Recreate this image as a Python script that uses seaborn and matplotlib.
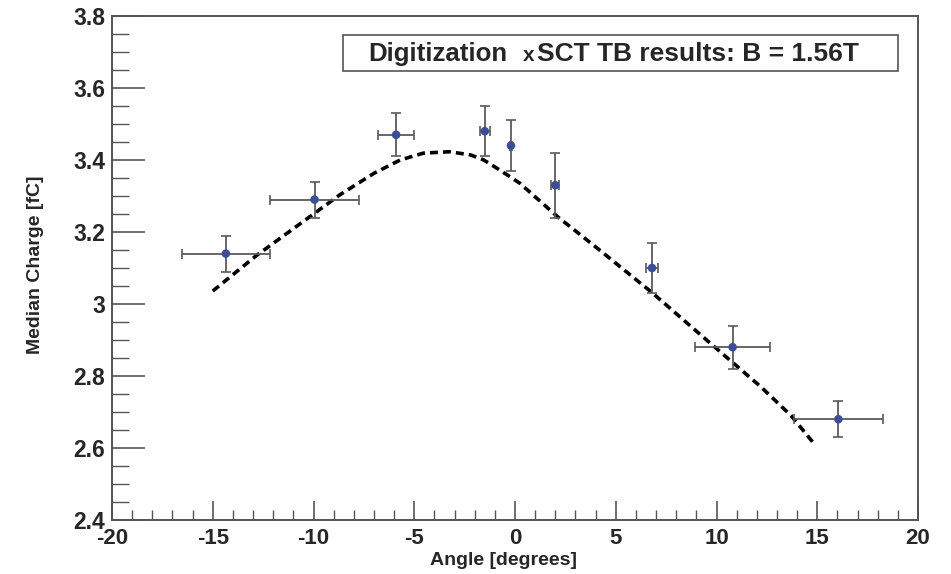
import matplotlib
matplotlib.use("Agg")
import matplotlib.pyplot as plt
import seaborn as sns
import numpy as np
import pandas as pd
from matplotlib.ticker import MultipleLocator
from matplotlib.patches import Rectangle

# --- data ---
angle = [-14.35, -9.95, -5.9, -1.5, -0.2, 2.0, 6.8, 10.8, 16.05]
charge = [3.14, 3.29, 3.47, 3.48, 3.44, 3.33, 3.10, 2.88, 2.68]
angle_err = [2.2, 2.2, 0.9, 0.25, 0.05, 0.2, 0.3, 1.85, 2.2]
charge_err = [0.05, 0.05, 0.06, 0.07, 0.07, 0.09, 0.07, 0.06, 0.05]

sim_angle = [-15.0, -12.8, -9.85, -8.7, -7.0, -5.7, -4.55, -3.25, -2.2, -1.55,
             -0.75, 0.25, 2.1, 3.25, 4.15, 6.75, 9.9, 12.2, 13.7, 14.9]
sim_charge = [3.036, 3.136, 3.256, 3.303, 3.363, 3.400, 3.419, 3.423, 3.414, 3.400,
              3.372, 3.335, 3.243, 3.192, 3.152, 3.034, 2.881, 2.770, 2.690, 2.608]

title_parts = ["Digitization", "x", "SCT TB results: B = 1.56T"]
x_label = "Angle [degrees]"
y_label = "Median Charge [fC]"
x_ticks = [-20, -15, -10, -5, 0, 5, 10, 15, 20]
x_ticklabels = ["-20", "-15", "-10", "-5", "0", "5", "10", "15", "20"]
y_ticks = [2.4, 2.6, 2.8, 3.0, 3.2, 3.4, 3.6, 3.8]
y_ticklabels = ["2.4", "2.6", "2.8", "3", "3.2", "3.4", "3.6", "3.8"]

sns.set_theme(style="ticks")
plt.rcParams['font.family'] = ['Liberation Sans', 'DejaVu Sans']

fig = plt.figure(figsize=(9.51, 5.74), dpi=100)
ax = fig.add_axes([112/951, 1-520/574, 806/951, 504/574])

df_sim = pd.DataFrame({"angle": sim_angle, "charge": sim_charge})
df_dat = pd.DataFrame({"angle": angle, "charge": charge})

sns.lineplot(data=df_sim, x="angle", y="charge", ax=ax, color="black",
             linewidth=2.6, linestyle=(0, (2.2, 1.4)), sort=False)
ax.errorbar(angle, charge, xerr=angle_err, yerr=charge_err, fmt="none",
            ecolor="#5a5a5a", elinewidth=1.3, capsize=3.5, capthick=1.2, zorder=3)
sns.scatterplot(data=df_dat, x="angle", y="charge", ax=ax, color="#3b4f96",
                s=38, edgecolor="none", zorder=4)

ax.set_xlim(-20, 20)
ax.set_ylim(2.4, 3.8)
ax.xaxis.set_minor_locator(MultipleLocator(1))
ax.yaxis.set_minor_locator(MultipleLocator(0.05))
ax.set_xticks(x_ticks)
ax.set_xticklabels(x_ticklabels)
ax.set_yticks(y_ticks)
ax.set_yticklabels(y_ticklabels)

ax.tick_params(axis="x", which="major", direction="in", length=14, width=1.2,
               color="#555555", labelsize=16, pad=6, top=False)
ax.tick_params(axis="x", which="minor", direction="in", length=7, width=1.0,
               color="#555555", top=False)
ax.tick_params(axis="y", which="major", direction="in", length=24, width=1.2,
               color="#555555", labelsize=16.5, pad=5, right=False)
ax.tick_params(axis="y", which="minor", direction="in", length=12, width=1.0,
               color="#555555", right=False)
for lab in ax.get_xticklabels() + ax.get_yticklabels():
    lab.set_fontweight("bold")

for sp in ax.spines.values():
    sp.set_visible(True)
    sp.set_color("#555555")
    sp.set_linewidth(1.4)

ax.set_xlabel(x_label, fontsize=14, fontweight="bold")
ax.set_ylabel(y_label, fontsize=14, fontweight="bold")
ax.xaxis.set_label_coords(0.486, -0.063)
ax.yaxis.set_label_coords(-0.0844, 0.506)

ax.add_patch(Rectangle((0.2869, 0.8915), 0.6887, 0.0714, transform=ax.transAxes,
                       facecolor="white", edgecolor="#555555", linewidth=1.2, zorder=5))
base_y = 0.9113
ax.text(0.318, base_y, title_parts[0], transform=ax.transAxes, ha="left", va="baseline",
        fontsize=18.6, fontweight="bold", zorder=6)
ax.text(0.5096, base_y, title_parts[1], transform=ax.transAxes, ha="left", va="baseline",
        fontsize=15, fontweight="bold", zorder=6)
ax.text(0.5269, base_y, title_parts[2], transform=ax.transAxes, ha="left", va="baseline",
        fontsize=19, fontweight="bold", zorder=6)

fig.savefig("out.png", dpi=100)
